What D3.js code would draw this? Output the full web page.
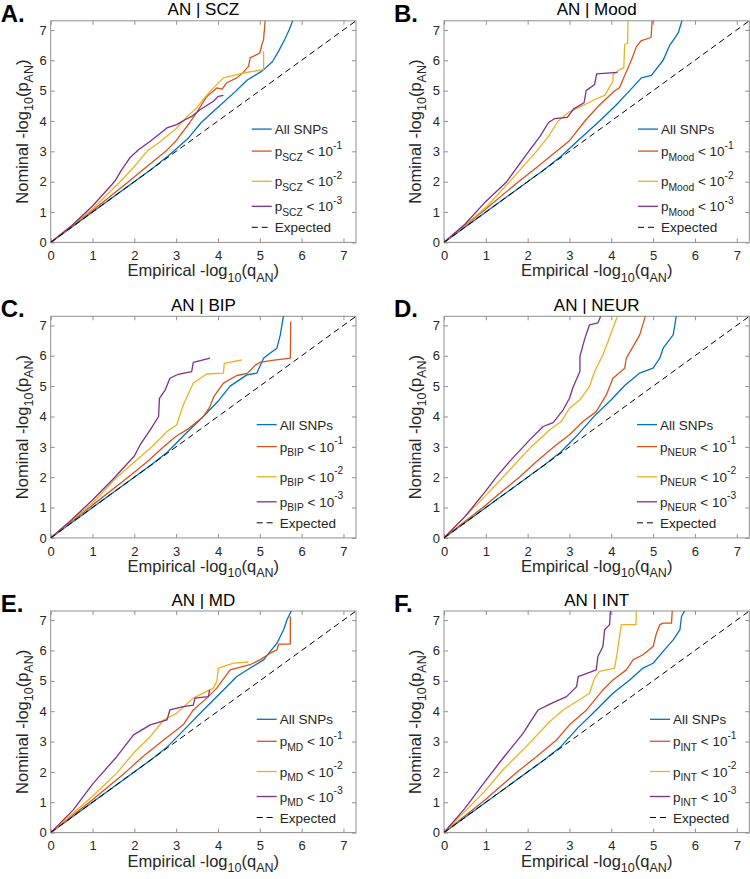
<!DOCTYPE html>
<html>
<head>
<meta charset="utf-8">
<title>AN conditional QQ plots</title>
<script src="https://cdn.jsdelivr.net/npm/d3@7"></script>
<style>
	body { margin: 0; background: #fff; font-family: "Liberation Sans", Arial, Helvetica, sans-serif; }
</style>
</head>
<body>
<div id="chart"></div>
<script>

// data: [empirical -log10(q), nominal -log10(p)]

const traits = ["SCZ", "Mood", "BIP", "NEUR", "MD", "INT"];
const letters = ["A.", "B.", "C.", "D.", "E.", "F."];
const ticks = [0, 1, 2, 3, 4, 5, 6, 7];
const thresholds = ["-1", "-2", "-3"];

const sczAll = [[0,0],[2.4,2.4],[2.8,2.84],[3.0,3.08],[3.3,3.45],[3.6,3.95],[4.0,4.45],[4.4,4.95],[4.7,5.35],[5.0,5.6],[5.1,5.7],[5.3,5.95],[5.45,6.3],[5.6,6.7],[5.7,7.0],[5.8,7.35]];
const sczP1 = [[0,0],[1,1.05],[1.86,2],[2.3,2.5],[2.75,3],[3.0,3.35],[3.3,3.9],[3.5,4.3],[3.73,4.8],[3.97,5.09],[4.1,5.05],[4.2,5.25],[4.45,5.42],[4.6,5.6],[4.73,5.8],[4.77,6.08],[5.0,6.24],[5.05,6.52],[5.09,6.68],[5.13,7.35]];
const sczP2 = [[0,0],[1,1.1],[1.66,2],[2.0,2.5],[2.3,3.0],[2.6,3.3],[3.0,3.75],[3.3,4.2],[3.49,4.43],[3.7,4.8],[3.89,5.09],[4.13,5.42],[4.6,5.58],[5.09,5.69],[5.09,6.3]];
const sczP3 = [[0,0],[0.5,0.55],[1.0,1.2],[1.46,1.9],[1.55,2.05],[1.7,2.4],[1.9,2.8],[2.1,3.05],[2.38,3.33],[2.78,3.77],[3.01,3.88],[3.21,4.04],[3.37,4.15],[3.57,4.37],[3.89,4.65],[4.01,4.81],[4.13,4.84]];

const moodAll = [[0,0],[2.4,2.4],[2.8,2.84],[3.2,3.35],[3.72,4.0],[4.1,4.5],[4.44,5.0],[4.72,5.42],[4.96,5.5],[5.24,6.0],[5.4,6.5],[5.5,6.7],[5.6,6.9],[5.7,7.35]];
const moodP1 = [[0,0],[1,1.1],[1.78,2],[2.2,2.45],[2.69,3],[3.0,3.35],[3.37,4],[3.7,4.5],[4.07,4.98],[4.2,5.1],[4.32,5.5],[4.48,6.0],[4.6,6.45],[4.72,6.65],[4.95,6.75],[4.98,7.35]];
const moodP2 = [[0,0],[1,1.15],[1.57,2],[2.21,3],[2.5,3.5],[2.73,4],[3.0,4.3],[3.3,4.5],[3.6,4.7],[3.85,4.85],[3.95,5.1],[4.04,5.3],[4.04,5.53],[4.2,5.69],[4.3,5.75],[4.32,6.52],[4.39,6.57],[4.4,7.35]];
const moodP3 = [[0,0],[0.5,0.6],[1,1.35],[1.5,2.0],[2.0,2.95],[2.3,3.5],[2.5,3.95],[2.65,4.08],[2.95,4.12],[3.1,4.4],[3.35,4.6],[3.4,5.0],[3.6,5.2],[3.65,5.55],[4.15,5.6]];

const bipAll = [[0,0],[2.4,2.4],[2.8,2.84],[3.2,3.4],[3.65,4.0],[4.0,4.5],[4.29,5.0],[4.69,5.37],[4.93,5.43],[5.09,5.92],[5.25,6.09],[5.41,6.25],[5.49,6.69],[5.57,7.35]];
const bipP1 = [[0,0],[1,1.08],[1.85,2],[2.3,2.5],[2.7,3],[3.0,3.35],[3.3,3.6],[3.65,4.0],[3.8,4.3],[3.9,4.65],[4.13,5.1],[4.45,5.35],[4.7,5.42],[4.9,5.7],[5.0,5.78],[5.3,5.85],[5.73,5.92],[5.74,7.13]];
const bipP2 = [[0,0],[1,1.15],[1.58,2],[2.0,2.5],[2.42,3],[2.78,3.5],[3.01,3.72],[3.17,4.38],[3.41,5.1],[3.73,5.4],[4.13,5.43],[4.15,5.75],[4.57,5.86]];
const bipP3 = [[0,0],[0.5,0.6],[1,1.25],[1.5,1.95],[2.0,2.7],[2.14,3.07],[2.38,3.56],[2.58,4.0],[2.6,4.6],[2.74,4.88],[2.85,5.26],[3.05,5.39],[3.37,5.48],[3.41,5.78],[3.81,5.92]];

const neurAll = [[0,0],[2.4,2.4],[2.8,2.84],[3.2,3.4],[3.6,4.02],[4.0,4.55],[4.32,5.02],[4.68,5.43],[5.0,5.59],[5.16,5.92],[5.24,6.25],[5.48,6.69],[5.56,7.35]];
const neurP1 = [[0,0],[1,1.08],[1.8,2],[2.2,2.5],[2.65,3.03],[3.0,3.4],[3.33,3.84],[3.64,4.16],[3.88,4.71],[4.04,5.26],[4.32,5.59],[4.36,5.92],[4.52,6.3],[4.68,6.69],[4.8,7.24],[4.83,7.35]];
const neurP2 = [[0,0],[1,1.4],[1.41,2],[2.05,2.95],[2.53,3.56],[2.81,3.84],[3.0,4.27],[3.25,4.55],[3.48,4.99],[3.6,5.48],[3.8,6.03],[3.92,6.46],[4.04,6.91],[4.16,7.35]];
const neurP3 = [[0,0],[0.5,0.7],[1,1.55],[1.25,2],[1.57,2.52],[2.05,3.23],[2.37,3.67],[2.61,3.8],[2.85,4.22],[3.0,4.6],[3.09,4.98],[3.25,5.48],[3.25,5.98],[3.37,6.58],[3.48,7.02],[3.68,7.08],[3.76,7.35]];

const mdAll = [[0,0],[2.4,2.4],[2.8,2.84],[3.2,3.4],[3.65,4.04],[4.13,4.7],[4.45,5.14],[4.77,5.42],[5.09,5.69],[5.25,5.97],[5.41,6.24],[5.57,6.68],[5.65,7.01],[5.77,7.35]];
const mdP1 = [[0,0],[1,1.08],[1.8,2],[2.2,2.5],[2.7,3.05],[3.17,3.55],[3.41,4.04],[3.73,4.43],[3.97,4.76],[4.29,5.36],[4.45,5.42],[4.77,5.53],[5.0,5.69],[5.25,5.91],[5.41,6.02],[5.45,6.21],[5.73,6.21],[5.73,7.12]];
const mdP2 = [[0,0],[1,1.2],[1.58,1.96],[1.98,2.62],[2.38,3.16],[2.7,3.71],[3.01,3.93],[3.41,4.43],[3.73,4.65],[3.89,4.76],[3.97,4.98],[4.01,5.42],[4.37,5.58],[4.73,5.62]];
const mdP3 = [[0,0],[0.54,0.75],[1.02,1.63],[1.58,2.5],[1.98,3.22],[2.38,3.55],[2.78,3.71],[2.85,4.04],[3.17,4.15],[3.41,4.2],[3.45,4.43],[3.77,4.48],[3.8,4.7]];

const intAll = [[0,0],[2.4,2.4],[2.8,2.84],[3.2,3.45],[3.56,3.93],[4.04,4.59],[4.44,5.03],[4.76,5.42],[5.0,5.58],[5.24,5.97],[5.48,6.35],[5.64,6.68],[5.68,7.12],[5.77,7.35]];
const intP1 = [[0,0],[1,1.1],[1.75,2],[2.21,2.5],[2.69,3.05],[3.0,3.55],[3.41,4.04],[3.8,4.7],[4.04,5.03],[4.36,5.36],[4.52,5.69],[4.76,5.86],[5.0,6.13],[5.08,6.57],[5.16,6.85],[5.24,6.9],[5.44,6.9],[5.46,7.35]];
const intP2 = [[0,0],[1,1.4],[1.41,2.07],[1.97,2.84],[2.53,3.66],[2.85,4.04],[3.17,4.32],[3.48,4.59],[3.6,5.09],[3.72,5.31],[4.08,5.42],[4.14,5.91],[4.24,6.85],[4.59,6.85],[4.6,7.35]];
const intP3 = [[0,0],[0.5,0.8],[1.01,1.74],[1.41,2.45],[1.89,3.27],[2.25,4.04],[2.53,4.23],[2.93,4.48],[3.17,4.81],[3.21,5.14],[3.64,5.36],[3.68,5.8],[3.8,6.13],[3.84,6.68],[3.96,6.85],[3.98,7.35]];

const series = [
	[sczAll, sczP1, sczP2, sczP3],
	[moodAll, moodP1, moodP2, moodP3],
	[bipAll, bipP1, bipP2, bipP3],
	[neurAll, neurP1, neurP2, neurP3],
	[mdAll, mdP1, mdP2, mdP3],
	[intAll, intP1, intP2, intP3],
];

// layout

const width = 750, height = 879;
const colLeft = [50.7, 444];
const rowTop = [20.8, 316.3, 611];
const pw = 305.3, ph = 221.6;
const legendLeft = [201, 194, 206, 193, 206, 206];
const legendRows = [108.3, 130.3, 160.5, 185.5, 206.5];
const colors = ["#0072BD", "#D95319", "#EDB120", "#7E2F8E"];
const ink = "#262626";
const frame = "#8f8f8f";

const x = d3.scaleLinear([0, 7.3], [0, pw]);
const y = d3.scaleLinear([0, 7.3], [ph, 0]);

const svg = d3.select("#chart").append("svg")
	.attr("width", width)
	.attr("height", height)
	.attr("font-family", "'Liberation Sans', Arial, Helvetica, sans-serif");

// text with sub/superscripts
function richText(text, parts, size) {
	let shift = 0;
	parts.forEach(p => {
		const target = p.sub ? size * 0.33 : p.sup ? -size * 0.55 : 0;
		text.append("tspan")
			.attr("dy", target - shift)
			.attr("font-size", (p.sub || p.sup) ? size * 0.76 : size)
			.text(p.t);
		shift = target;
	});
}

const line = d3.line().x(d => x(d[0])).y(d => y(d[1]));

traits.forEach((trait, i) => {
	const g = svg.append("g")
		.attr("transform", `translate(${colLeft[i % 2]},${rowTop[Math.floor(i / 2)]})`);

	g.append("clipPath").attr("id", "clip" + i)
		.append("rect").attr("width", pw).attr("height", ph);

	// axes, ticks pointing in on all four sides
	const axes = [
		[d3.axisBottom(x), `translate(0,${ph})`, true, 8.5],
		[d3.axisTop(x), null, false, 0],
		[d3.axisLeft(y), null, true, 4],
		[d3.axisRight(y), `translate(${pw},0)`, false, 0],
	];
	axes.forEach(([ax, tr, labels, pad]) => {
		const a = g.append("g")
			.attr("transform", tr)
			.call(ax.tickValues(ticks).tickSize(-4).tickPadding(pad)
				.tickFormat(labels ? d3.format("d") : ""));
		a.select(".domain").remove();
		a.selectAll(".tick line").attr("stroke", frame);
		a.selectAll("text").attr("fill", ink).attr("font-size", 13);
	});

	g.append("rect")
		.attr("width", pw).attr("height", ph)
		.attr("fill", "none").attr("stroke", frame).attr("stroke-width", 1);

	const plot = g.append("g").attr("clip-path", `url(#clip${i})`);
	series[i].forEach((s, k) => {
		plot.append("path")
			.datum(s)
			.attr("fill", "none")
			.attr("stroke", colors[k])
			.attr("stroke-width", 1.3)
			.attr("stroke-linejoin", "round")
			.attr("d", line);
	});
	plot.append("path")
		.datum([[0, 0], [7.3, 7.3]])
		.attr("fill", "none")
		.attr("stroke", "#000")
		.attr("stroke-width", 1)
		.attr("stroke-dasharray", "6,4")
		.attr("d", line);

	// title and panel letter
	g.append("text")
		.attr("x", pw / 2).attr("y", -5.5)
		.attr("text-anchor", "middle")
		.attr("font-size", 17).attr("fill", "#000")
		.text(`AN | ${trait}`);
	g.append("text")
		.attr("x", -50).attr("y", 1)
		.attr("font-size", 24).attr("font-weight", "bold").attr("fill", "#000")
		.text(letters[i]);

	// axis labels
	const xl = g.append("text")
		.attr("x", pw / 2).attr("y", ph + 34)
		.attr("text-anchor", "middle").attr("fill", ink);
	richText(xl, [{t: "Empirical -log"}, {t: "10", sub: true}, {t: "(q"}, {t: "AN", sub: true}, {t: ")"}], 16.5);

	const yl = g.append("text")
		.attr("transform", `translate(-23,${ph / 2}) rotate(-90)`)
		.attr("text-anchor", "middle").attr("fill", ink);
	richText(yl, [{t: "Nominal -log"}, {t: "10", sub: true}, {t: "(p"}, {t: "AN", sub: true}, {t: ")"}], 16.5);

	// legend
	const lg = g.append("g").attr("transform", `translate(${legendLeft[i]},0)`);
	const entries = [
		[{t: "All SNPs"}],
		...thresholds.map(t => [{t: "p"}, {t: trait, sub: true}, {t: " < 10"}, {t: t, sup: true}]),
		[{t: "Expected"}],
	];
	entries.forEach((parts, k) => {
		const ly = legendRows[k];
		lg.append("line")
			.attr("x1", 0).attr("x2", 20).attr("y1", ly).attr("y2", ly)
			.attr("stroke", k < 4 ? colors[k] : "#000")
			.attr("stroke-width", k < 4 ? 1.3 : 1)
			.attr("stroke-dasharray", k < 4 ? null : "6,4");
		const t = lg.append("text")
			.attr("x", 23).attr("y", ly + 5)
			.attr("fill", ink);
		richText(t, parts, 13.5);
	});
});

</script>
</body>
</html>
